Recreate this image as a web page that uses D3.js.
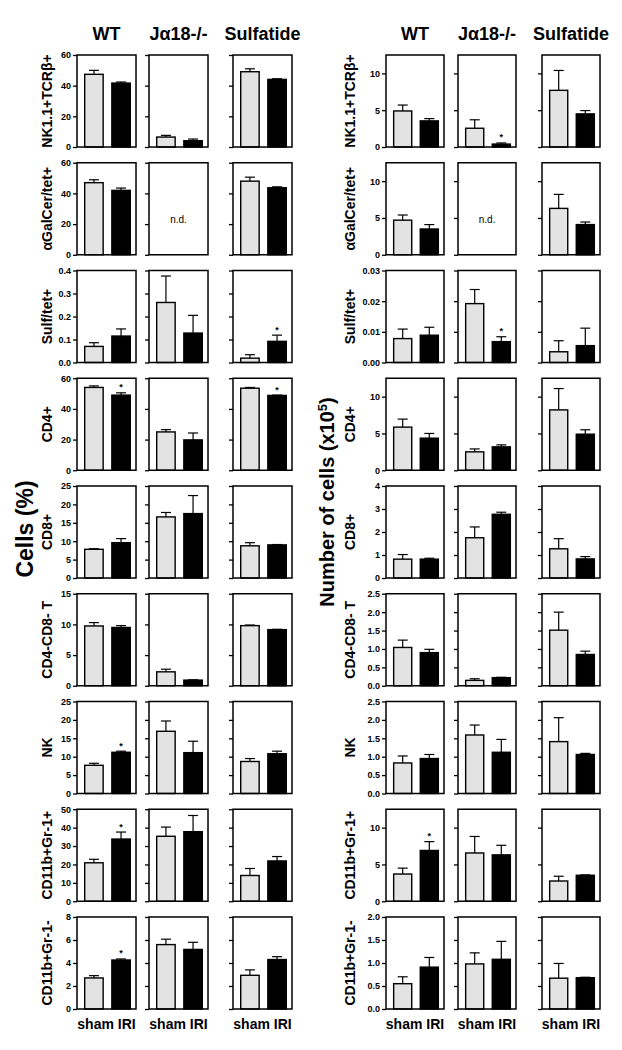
<!DOCTYPE html>
<html><head><meta charset="utf-8">
<script src="https://cdn.jsdelivr.net/npm/d3@7"></script>
<style>body{margin:0;background:#fff} text{font-family:Arial,"Liberation Sans",sans-serif}</style>
</head><body>
<svg id="c" width="622" height="1050"></svg>
<script>
// ---------- data ----------
const rowLabels = ["NK1.1+TCRβ+","αGalCer/tet+","Sulf/tet+","CD4+","CD8+","CD4-CD8- T","NK","CD11b+Gr-1+","CD11b+Gr-1-"];
const groups = ["WT","Jα18-/-","Sulfatide"];
const conditions = ["sham","IRI"];

// Cells (%) — per row: [WT, Jα18-/-, Sulfatide]
const pctSham    = [[47.4,6.5,49.1],[47,null,48],[0.070,0.261,0.019],[54,25,53.5],[7.8,16.6,8.75],[9.75,2.27,9.8],[7.66,16.9,8.7],[20.9,35.3,14],[2.7,5.6,2.93]];
const pctShamSem = [[2.6,1.1,1.9],[1.9,null,2.6],[0.016,0.115,0.015],[1,1.5,0.5],[0.15,1.2,0.85],[0.55,0.43,0.1],[0.55,2.8,0.8],[1.9,5,3.8],[0.2,0.47,0.47]];
const pctIri     = [[41.7,4.1,44.1],[42,null,43.7],[0.115,0.128,0.092],[49,19.8,48.8],[9.6,17.5,9.0],[9.5,0.92,9.15],[11.2,11.1,10.8],[33.8,37.8,21.9],[4.26,5.18,4.3]];
const pctIriSem  = [[0.7,1.1,0.4],[1.5,null,0.6],[0.031,0.077,0.027],[1.5,4.5,0.2],[1.1,4.9,0.1],[0.3,0.05,0.05],[0.3,3.1,0.7],[3.8,8.8,2.4],[0.09,0.62,0.25]];
const pctStars   = [[2,2],[3,0],[3,2],[6,0],[7,0],[8,0]]; // [row, group] on IRI bar
const pctMax     = [60,60,0.4,60,25,15,25,50,8];
const pctStep    = [20,20,0.1,20,5,5,5,10,2];
const pctFmt     = ["d","d",".1f","d","d","d","d","d","d"];

// Number of cells (x10^5)
const numSham    = [[4.9,2.55,7.7],[4.7,null,6.3],[0.0078,0.0192,0.0035],[5.86,2.5,8.2],[0.82,1.75,1.27],[1.04,0.146,1.51],[0.83,1.59,1.41],[3.7,6.56,2.75],[0.55,0.98,0.67]];
const numShamSem = [[0.8,1.15,2.7],[0.7,null,1.9],[0.0031,0.0046,0.0036],[1.09,0.4,2.9],[0.2,0.47,0.44],[0.2,0.044,0.49],[0.19,0.27,0.65],[0.8,2.24,0.65],[0.15,0.24,0.32]];
const numIri     = [[3.55,0.4,4.5],[3.5,null,4.1],[0.0089,0.0068,0.0055],[4.36,3.18,4.9],[0.82,2.77,0.83],[0.9,0.22,0.85],[0.95,1.12,1.06],[6.9,6.3,3.53],[0.91,1.08,0.68]];
const numIriSem  = [[0.31,0.15,0.45],[0.6,null,0.35],[0.0026,0.0016,0.0057],[0.64,0.27,0.6],[0.04,0.09,0.1],[0.09,0.01,0.09],[0.11,0.35,0.03],[1.2,1.3,0.05],[0.21,0.39,0.01]];
const numStars   = [[0,1],[2,1],[7,0]];
const numMax     = [12.5,12.5,0.03,12.5,4,2.5,2.5,12.5,2.0];
const numStep    = [5,5,0.01,5,1,0.5,0.5,5,0.5];
const numFmt     = ["d","d",".2f","d","d",".1f",".1f","d",".1f"];

// ---------- layout ----------
const svg = d3.select("#c");
const panels = [
  {x:77,  boxW:59, sham:pctSham, shamSem:pctShamSem, iri:pctIri, iriSem:pctIriSem, stars:pctStars, max:pctMax, step:pctStep, fmt:pctFmt, rowLabelX:52, titleX:25, titleY:529},
  {x:386, boxW:58, sham:numSham, shamSem:numShamSem, iri:numIri, iriSem:numIriSem, stars:numStars, max:numMax, step:numStep, fmt:numFmt, rowLabelX:355, titleX:327, titleY:502}
];
const colOffsets = [0,72,156];
const rowBand = d3.scaleBand().domain(d3.range(rowLabels.length)).range([55,1009]).paddingInner(0.146).paddingOuter(0);

panels.forEach((P,pi)=>{
  const g = svg.append("g");
  groups.forEach((gr,gi)=>{
    g.append("text").attr("x",P.x+colOffsets[gi]+P.boxW/2).attr("y",40)
      .attr("text-anchor","middle").attr("font-size",18).attr("font-weight","bold").text(gr);
    g.append("text").attr("x",P.x+colOffsets[gi]+P.boxW/2).attr("y",1029)
      .attr("text-anchor","middle").attr("font-size",14).attr("font-weight","bold").text(conditions.join(" "));
  });
  const t = g.append("text").attr("transform",`translate(${P.titleX},${P.titleY}) rotate(-90)`)
    .attr("text-anchor","middle").attr("dy","0.35em").attr("font-weight","bold").attr("font-size", pi===0?23:20);
  if(pi===0){ t.text("Cells (%)"); }
  else { t.append("tspan").text("Number of cells (x10"); t.append("tspan").attr("baseline-shift","super").attr("font-size",13).text("5"); t.append("tspan").text(")"); }

  rowLabels.forEach((lab,ri)=>{
    const top = rowBand(ri), bh = rowBand.bandwidth();
    const y = d3.scaleLinear().domain([0,P.max[ri]]).range([top+bh, top]);
    g.append("text").attr("transform",`translate(${P.rowLabelX},${top+bh/2}) rotate(-90)`)
      .attr("text-anchor","middle").attr("font-size",14).attr("font-weight","bold").text(lab);
    const ticks = d3.range(0, P.max[ri]+P.step[ri]*0.01, P.step[ri]);
    groups.forEach((gr,gi)=>{
      const x0 = P.x + colOffsets[gi];
      const cell = g.append("g");
      const ax = d3.axisLeft(y).tickValues(ticks).tickSize(4).tickPadding(2)
        .tickFormat(gi===0 ? d3.format(P.fmt[ri]) : "");
      const axg = cell.append("g").attr("transform",`translate(${x0},0)`).call(ax);
      axg.select(".domain").remove();
      axg.selectAll("line").attr("stroke","#000").attr("stroke-width",1.3);
      axg.selectAll("text").attr("font-size",9).attr("font-weight","bold").attr("font-family","Arial, 'Liberation Sans', sans-serif");
      const xb = d3.scaleBand().domain(conditions).range([x0+5, x0+P.boxW-3]).paddingInner(0.32).paddingOuter(0.1);
      const sh = P.sham[ri][gi];
      if(sh===null){
        cell.append("text").attr("x",x0+P.boxW/2).attr("y",top+bh/2+14).attr("text-anchor","middle")
          .attr("font-size",10).text("n.d.");
      } else {
        const bars = [
          {c:"sham", v:sh, e:P.shamSem[ri][gi], fill:"#e3e3e3"},
          {c:"IRI", v:P.iri[ri][gi], e:P.iriSem[ri][gi], fill:"#000"}
        ];
        bars.forEach(b=>{
          const cx = xb(b.c)+xb.bandwidth()/2;
          cell.append("line").attr("x1",cx).attr("x2",cx).attr("y1",y(b.v)).attr("y2",y(b.v+b.e)).attr("stroke","#000").attr("stroke-width",1.2);
          cell.append("line").attr("x1",cx-5).attr("x2",cx+5).attr("y1",y(b.v+b.e)).attr("y2",y(b.v+b.e)).attr("stroke","#000").attr("stroke-width",1.2);
          cell.append("rect").attr("x",xb(b.c)).attr("width",xb.bandwidth()).attr("y",y(b.v)).attr("height",y(0)-y(b.v))
            .attr("fill",b.fill).attr("stroke","#000").attr("stroke-width",1.4);
        });
        P.stars.filter(s=>s[0]===ri && s[1]===gi).forEach(()=>{
          const v = P.iri[ri][gi]+P.iriSem[ri][gi];
          cell.append("text").attr("x",xb("IRI")+xb.bandwidth()/2).attr("y",y(v)-2.5).attr("text-anchor","middle")
            .attr("font-size",9).attr("font-weight","bold").text("*");
        });
      }
      cell.append("rect").attr("x",x0).attr("y",top).attr("width",P.boxW).attr("height",bh)
        .attr("fill","none").attr("stroke","#000").attr("stroke-width",1.5);
    });
  });
});
</script>
</body></html>
